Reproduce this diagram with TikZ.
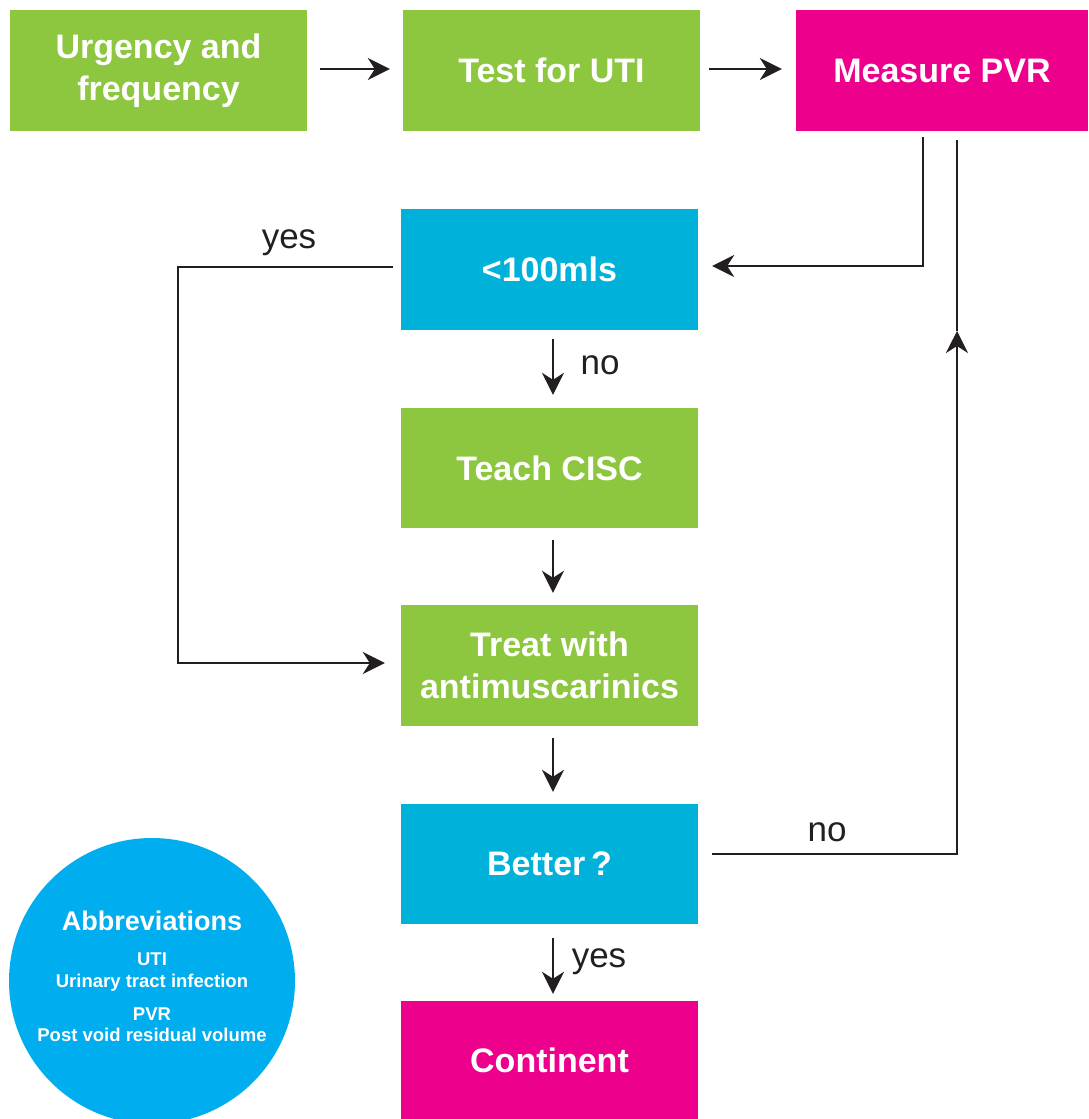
\documentclass[tikz,border=0pt]{standalone}
\usepackage{fontspec}
\setmainfont{Liberation Sans}
\usetikzlibrary{arrows.meta}
\definecolor{boxgreen}{RGB}{141,198,63}
\definecolor{boxpink}{RGB}{236,0,140}
\definecolor{boxcyan}{RGB}{0,178,218}
\definecolor{circcyan}{RGB}{0,173,238}
\definecolor{ink}{RGB}{35,31,32}
\tikzset{
  box/.style={rectangle, inner sep=0pt, minimum width=297pt, minimum height=121pt,
    text=white, align=center, font=\fontsize{34}{42}\selectfont\bfseries},
  greenbox/.style={box, fill=boxgreen},
  pinkbox/.style={box, fill=boxpink},
  cyanbox/.style={box, fill=boxcyan},
  conn/.style={draw=ink, line width=2pt},
  arr/.style={conn, -{Stealth[length=22pt, width=22pt, inset=7pt]}},
  lbl/.style={text=ink, font=\fontsize{35}{36}\selectfont, inner sep=0pt},
  abbr/.style={text=white, align=center, inner sep=0pt}
}
\begin{document}
\begin{tikzpicture}[x=1pt,y=-1pt]
\useasboundingbox (0,0) rectangle (1088,1119);
% circle
\node[circle, fill=circcyan, minimum size=286pt, inner sep=0pt] (circ) at (152,981) {};
\node[abbr, anchor=base, font=\fontsize{27}{28}\selectfont\bfseries] (abt) at (152,930) {Abbreviations};
\node[abbr, anchor=base, font=\fontsize{18.5}{22}\selectfont\bfseries] (ab1) at (152,965) {UTI};
\node[abbr, anchor=base, font=\fontsize{18.5}{22}\selectfont\bfseries] (ab2) at (152,987) {Urinary tract infection};
\node[abbr, anchor=base, font=\fontsize{18.5}{22}\selectfont\bfseries] (ab3) at (152,1020) {PVR};
\node[abbr, anchor=base, font=\fontsize{18.5}{22}\selectfont\bfseries] (ab4) at (152,1041) {Post void residual volume};
% boxes
\node[greenbox] (urg) at (158.5,70.5) {Urgency and\\frequency};
\node[greenbox] (uti) at (551.5,70.5) {Test for UTI};
\node[pinkbox, minimum width=292pt] (pvr) at (942,70.5) {Measure PVR};
\node[cyanbox] (lt) at (549.5,269.5) {<100mls};
\node[greenbox, minimum height=120pt] (cisc) at (549.5,468) {Teach CISC};
\node[greenbox] (treat) at (549.5,665.5) {Treat with\\antimuscarinics};
\node[cyanbox, minimum height=120pt] (better) at (549.5,864) {Better\,?};
\node[pinkbox, minimum height=118pt] (cont) at (549.5,1060) {Continent};
% coordinates
\coordinate (h1) at (0,69);
\coordinate (p1) at (923,266);
\coordinate (q1) at (957,854);
\coordinate (q2) at (957,331);
\coordinate (y1) at (178,267);
\coordinate (y2) at (178,663);
\coordinate (v) at (553,0);
% top arrows
\draw[arr, shorten <=13pt, shorten >=13pt] (urg.east |- h1) -- (uti.west |- h1);
\draw[arr, shorten <=9pt, shorten >=14pt] (uti.east |- h1) -- (pvr.west |- h1);
% pvr to <100
\draw[arr, shorten <=6pt, shorten >=14pt] (pvr.south -| p1) -- (p1) -- (lt.east |- p1);
% better no loop
\draw[arr, shorten <=14pt] (better.east |- q1) -- (q1) -- (q2);
\draw[conn, shorten >=9pt] (q2) -- (pvr.south -| q2);
% yes loop
\draw[arr, shorten <=8pt, shorten >=16pt] (lt.west |- y1) -- (y1) -- (y2) -- (treat.west |- y2);
% vertical arrows
\draw[arr, shorten <=9pt, shorten >=13pt] (lt.south -| v) -- (cisc.north -| v);
\draw[arr, shorten <=12pt, shorten >=12pt] (cisc.south -| v) -- (treat.north -| v);
\draw[arr, shorten <=12pt, shorten >=12pt] (treat.south -| v) -- (better.north -| v);
\draw[arr, shorten <=14pt, shorten >=7pt] (better.south -| v) -- (cont.north -| v);
% labels
\node[lbl] (l1) at (289,243) {yes};
\node[lbl] (l2) at (600,365) {no};
\node[lbl] (l3) at (827,832) {no};
\node[lbl] (l4) at (599,962) {yes};
\end{tikzpicture}
\end{document}
